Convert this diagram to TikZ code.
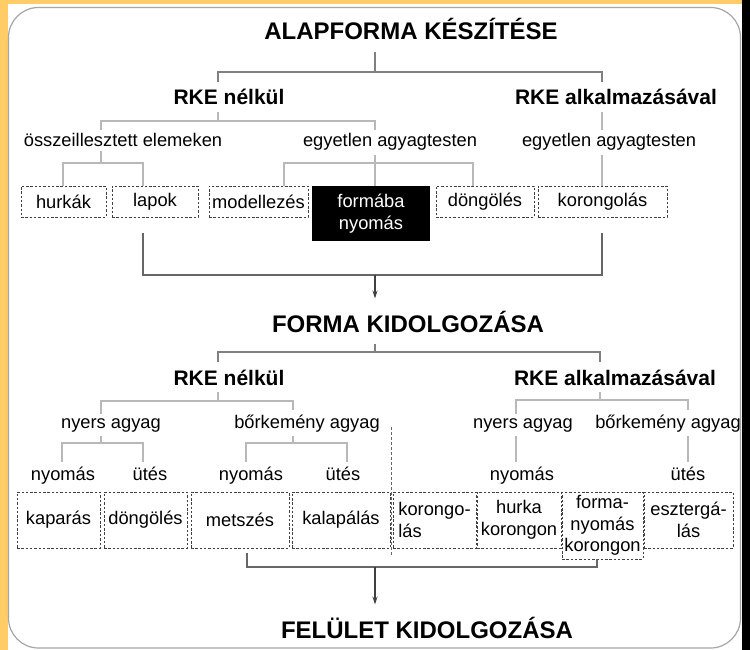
\documentclass[tikz,border=0pt]{standalone}
\usepackage{fontspec}
\setmainfont{Liberation Sans}
\usetikzlibrary{arrows.meta}
\definecolor{frameyellow}{HTML}{FFCC66}

\begin{document}
\begin{tikzpicture}[x=1pt,y=-1pt,>={Stealth[length=8pt,width=5pt]},
      every node/.style={font=\fontsize{18.3}{21.5}\selectfont,inner xsep=2pt,inner ysep=4pt},
      headtext/.style={font=\fontsize{21}{24}\selectfont\bfseries,inner ysep=7pt},
      titletext/.style={font=\fontsize{24}{28}\selectfont\bfseries,inner ysep=12pt},
      dbox/.style={draw=black!75,dash pattern=on 2.5pt off 1.8pt,line width=0.8pt,inner sep=0pt,align=center},
      blackbox/.style={fill=black,text=white,inner sep=0pt,align=center},
      trunk/.style={draw=black!50,line width=1.4pt},
      twig/.style={draw=black!28,line width=1.2pt},
      gather/.style={draw=black!60,line width=1.4pt},
      flowarrow/.style={draw=black!75,line width=1.2pt,->},
      divider/.style={draw=black!60,dash pattern=on 3pt off 2pt,line width=0.9pt}
      ]
      % frame
      \fill[white] (0,0) rectangle (750,650);
      \fill[frameyellow] (0,0) rectangle (8,650);
      \fill[frameyellow] (0,0) rectangle (742,4);
      \fill[black] (742,0) rectangle (750,650);
      \draw[black!35,line width=1.2pt,rounded corners=30pt] (8.5,7.5) rectangle (740.5,648);
      \useasboundingbox (0,0) rectangle (750,650);

      % alapforma
      \node[titletext,anchor=base] (alap) at (411,40) {ALAPFORMA KÉSZÍTÉSE};
      \node[headtext,anchor=base] (rke1) at (229,105) {RKE nélkül};
      \node[headtext,anchor=base] (rke2) at (616,105) {RKE alkalmazásával};
      \node[anchor=base] (osz) at (123,147) {összeillesztett elemeken};
      \node[anchor=base] (egy1) at (390,147) {egyetlen agyagtesten};
      \node[anchor=base] (egy2) at (609,147) {egyetlen agyagtesten};

      \node[dbox,minimum width=85,minimum height=31] (hurkak) at (63.5,201.5) {hurkák};
      \node[dbox,minimum width=86,minimum height=31] (lapok) at (155,201.5) {lapok};
      \node[dbox,minimum width=99,minimum height=31] (modell) at (258.5,201.5) {modellezés};
      \node[blackbox,minimum width=118,minimum height=55] (formaba) at (371,213.5) {formába\\nyomás};
      \node[dbox,minimum width=98,minimum height=31] (dongol1) at (485,201.5) {döngölés};
      \node[dbox,minimum width=129,minimum height=31] (korong1) at (602.5,201.5) {korongolás};

      \coordinate (b1) at (375,72); \coordinate (b1l) at (218,72); \coordinate (b1r) at (602,72);
      \coordinate (b2) at (218,121); \coordinate (b2l) at (101,121); \coordinate (b2r) at (375,121);
      \coordinate (b4) at (101,163); \coordinate (b4l) at (63,163); \coordinate (b4r) at (143,163);
      \coordinate (b5) at (375,163); \coordinate (b5l) at (284,163); \coordinate (b5r) at (473,163);
      \coordinate (g1) at (375,275); \coordinate (g1l) at (143,275); \coordinate (g1r) at (602,275);

      \draw[trunk] (alap.south -| b1) -- (b1);
      \draw[trunk] (rke1.north -| b1l) -- (b1l) -- (b1r) -- (rke2.north -| b1r);
      \draw[twig] (rke1.south -| b2) -- (b2);
      \draw[twig] (osz.north -| b2l) -- (b2l) -- (b2r) -- (egy1.north -| b2r);
      \draw[twig] (rke2.south -| b1r) -- (egy2.north -| b1r);
      \draw[twig] (osz.south -| b4) -- (b4);
      \draw[twig] (hurkak.north -| b4l) -- (b4l) -- (b4r) -- (lapok.north -| b4r);
      \draw[twig] (egy1.south -| b5) -- (formaba.north -| b5);
      \draw[twig] (modell.north -| b5l) -- (b5l) -- (b5r) -- (dongol1.north -| b5r);
      \draw[twig] (egy2.south -| b1r) -- (korong1.north -| b1r);
      \draw[gather,shorten <=16pt,shorten >=16pt] (lapok.south -| g1l) -- (g1l) -- (g1r) -- (korong1.south -| g1r);

      % forma kidolgozasa
      \node[titletext,anchor=base] (forma) at (408,332) {FORMA KIDOLGOZÁSA};
      \draw[flowarrow] (g1) -- (forma.north -| g1);
      \node[headtext,anchor=base] (rke3) at (229,385) {RKE nélkül};
      \node[headtext,anchor=base] (rke4) at (615,385) {RKE alkalmazásával};
      \node[anchor=base] (nyers1) at (111,428) {nyers agyag};
      \node[anchor=base] (bork1) at (307,428) {bőrkemény agyag};
      \node[anchor=base] (nyers2) at (523,428) {nyers agyag};
      \node[anchor=base] (bork2) at (668,428) {bőrkemény agyag};
      \node[anchor=base] (nyom1) at (63,480) {nyomás};
      \node[anchor=base] (utes1) at (150,480) {ütés};
      \node[anchor=base] (nyom2) at (251,480) {nyomás};
      \node[anchor=base] (utes2) at (343,480) {ütés};
      \node[anchor=base] (nyom3) at (522,480) {nyomás};
      \node[anchor=base] (utes3) at (688,480) {ütés};

      \node[dbox,minimum width=83,minimum height=56] (kapar) at (58.5,520) {kaparás};
      \node[dbox,minimum width=83,minimum height=56] (dongol2) at (145.5,520) {döngölés};
      \node[dbox,minimum width=98,minimum height=56] (metsz) at (240,520) {metszés};
      \node[dbox,minimum width=98,minimum height=56] (kalap) at (341,520) {kalapálás};
      \node[dbox,minimum width=83,minimum height=56,align=left] (korong2) at (434.5,520) {korongo-\\lás};
      \node[dbox,minimum width=84,minimum height=56] (hurka) at (519,520) {hurka\\korongon};
      \node[dbox,minimum width=81,minimum height=67] (formany) at (602.5,525.5) {forma-\\nyomás\\korongon};
      \node[dbox,minimum width=89,minimum height=56] (eszterg) at (688.5,520) {esztergá-\\lás};

      \coordinate (b6) at (375,352); \coordinate (b6l) at (218,352); \coordinate (b6r) at (600,352);
      \coordinate (b7) at (218,401); \coordinate (b7l) at (101,401); \coordinate (b7r) at (293,401);
      \coordinate (b8) at (101,443); \coordinate (b8l) at (62,443); \coordinate (b8r) at (143,443);
      \coordinate (b9) at (293,443); \coordinate (b9l) at (246,443); \coordinate (b9r) at (347,443);
      \coordinate (b10) at (600,400); \coordinate (b10l) at (516,400); \coordinate (b10r) at (688,400);
      \coordinate (g2) at (375,567); \coordinate (g2l) at (247,567); \coordinate (g2r) at (597,567);

      \draw[trunk] (forma.south -| b6) -- (b6);
      \draw[trunk] (rke3.north -| b6l) -- (b6l) -- (b6r) -- (rke4.north -| b6r);
      \draw[twig] (rke3.south -| b7) -- (b7);
      \draw[twig] (nyers1.north -| b7l) -- (b7l) -- (b7r) -- (bork1.north -| b7r);
      \draw[twig] (nyers1.south -| b8) -- (b8);
      \draw[twig] (nyom1.north -| b8l) -- (b8l) -- (b8r) -- (utes1.north -| b8r);
      \draw[twig] (bork1.south -| b9) -- (b9);
      \draw[twig] (nyom2.north -| b9l) -- (b9l) -- (b9r) -- (utes2.north -| b9r);
      \draw[twig] (rke4.south -| b10) -- (b10);
      \draw[twig] (nyers2.north -| b10l) -- (b10l) -- (b10r) -- (bork2.north -| b10r);
      \draw[twig] (nyers2.south -| b10l) -- (nyom3.north -| b10l);
      \draw[twig] (bork2.south -| b10r) -- (utes3.north -| b10r);
      \draw[divider] (391,427) -- (391,555);

      % felulet kidolgozasa
      \node[titletext,anchor=base] (felulet) at (427,638) {FELÜLET KIDOLGOZÁSA};
      \draw[gather,shorten <=5pt] (metsz.south -| g2l) -- (g2l) -- (g2r) -- (formany.south -| g2r);
      \draw[flowarrow] (g2) -- (felulet.north -| g2);
    \end{tikzpicture}
\end{document}
